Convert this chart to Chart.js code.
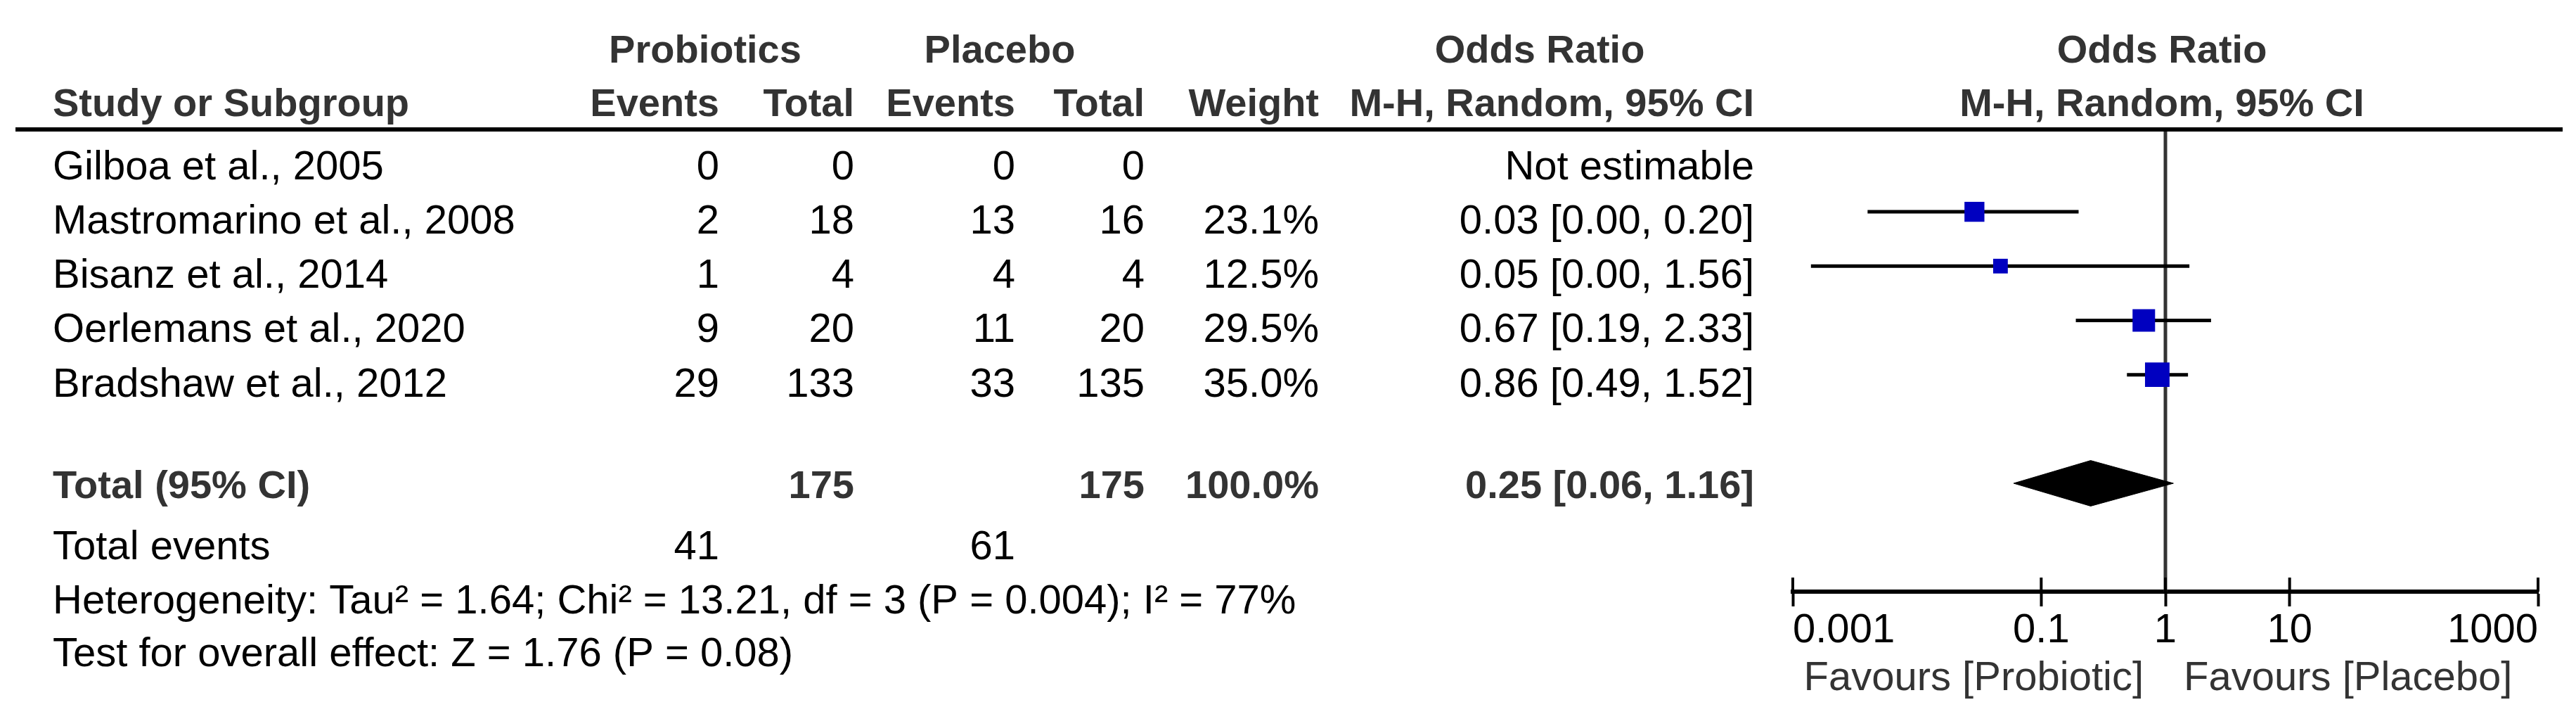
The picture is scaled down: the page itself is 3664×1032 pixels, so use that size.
<!DOCTYPE html>
<html>
<head>
<meta charset="utf-8">
<script src="https://cdn.jsdelivr.net/npm/chart.js@4.4.1/dist/chart.umd.min.js"></script>
<style>
  html, body { margin: 0; padding: 0; background: #fff; }
  #wrap { width: 3664px; height: 1032px; }
</style>
</head>
<body>
<div id="wrap"><canvas id="forest" width="3664" height="1032"></canvas></div>
<script>
// study data
const studies = ['Gilboa et al., 2005', 'Mastromarino et al., 2008', 'Bisanz et al., 2014', 'Oerlemans et al., 2020', 'Bradshaw et al., 2012'];
const probEvents = [0, 2, 1, 9, 29];
const probTotal = [0, 18, 4, 20, 133];
const placEvents = [0, 13, 4, 11, 33];
const placTotal = [0, 16, 4, 20, 135];
const weights = [null, 23.1, 12.5, 29.5, 35.0];
const orEst = [null, 0.029, 0.047, 0.67, 0.86];
const ciLow = [null, 0.004, 0.0014, 0.19, 0.49];
const ciHigh = [null, 0.20, 1.56, 2.33, 1.52];

// pooled result
const totalRow = 6;
const pooledEst = 0.25;
const pooledLow = 0.06;
const pooledHigh = 1.16;
const pooledTotals = [175, 175];
const pooledEvents = [41, 61];
const pooledWeight = 100.0;

const xTicks = [0.001, 0.1, 1, 10, 1000];
const heterogeneity = 'Heterogeneity: Tau\u00B2 = 1.64; Chi\u00B2 = 13.21, df = 3 (P = 0.004); I\u00B2 = 77%';
const overallEffect = 'Test for overall effect: Z = 1.76 (P = 0.08)';
const favourLeft = 'Favours [Probiotic]';
const favourRight = 'Favours [Placebo]';

const FONT = '"Liberation Sans", Arial, sans-serif';
const SIZE = 58;
const BOLD_SIZE = 56;

const fmt2 = v => v.toFixed(2);
const orText = i => orEst[i] == null ? 'Not estimable' : `${fmt2(orEst[i])} [${fmt2(ciLow[i])}, ${fmt2(ciHigh[i])}]`;

// build datasets
const datasets = [];
studies.forEach((s, i) => {
  if (orEst[i] == null) return;
  datasets.push({
    type: 'line',
    data: [{x: ciLow[i], y: i}, {x: ciHigh[i], y: i}],
    borderColor: '#000',
    borderWidth: 5,
    pointRadius: 0,
    order: 2
  });
});
datasets.push({
  type: 'scatter',
  data: studies.map((s, i) => orEst[i] == null ? null : {x: orEst[i], y: i}).filter(p => p),
  pointStyle: 'rect',
  backgroundColor: '#0000C0',
  borderWidth: 0,
  pointRadius: weights.filter(w => w != null).map(w => 5.9 * Math.sqrt(w) / Math.SQRT2),
  order: 0
});
datasets.push({
  type: 'line',
  data: [
    {x: pooledLow, y: totalRow},
    {x: pooledEst, y: totalRow - 0.42},
    {x: pooledHigh, y: totalRow},
    {x: pooledEst, y: totalRow + 0.42},
    {x: pooledLow, y: totalRow}
  ],
  borderColor: '#000',
  borderWidth: 1,
  backgroundColor: '#000',
  fill: 'shape',
  pointRadius: 0,
  tension: 0,
  order: 0
});

const HEADER_RULE = 184;

const forestTable = {
  id: 'forestTable',
  beforeDatasetsDraw(chart) {
    const {ctx, scales: {x}} = chart;
    // line of no effect
    const x1 = x.getPixelForValue(1);
    ctx.save();
    ctx.strokeStyle = '#333';
    ctx.lineWidth = 5;
    ctx.beginPath();
    ctx.moveTo(x1, HEADER_RULE);
    ctx.lineTo(x1, chart.chartArea.bottom);
    ctx.stroke();
    ctx.restore();
  },
  afterDraw(chart) {
    const {ctx, scales: {x, y}} = chart;
    const axisY = chart.chartArea.bottom;
    ctx.save();

    // upper halves of the axis ticks
    ctx.strokeStyle = '#000';
    ctx.lineWidth = 4;
    xTicks.forEach(v => {
      const px = x.getPixelForValue(v);
      ctx.beginPath();
      ctx.moveTo(px, axisY - 20);
      ctx.lineTo(px, axisY);
      ctx.stroke();
    });

    // header rule
    ctx.fillStyle = '#000';
    ctx.fillRect(22, HEADER_RULE - 3, 3623, 6);

    const put = (txt, px, py, align, bold, color) => {
      ctx.font = bold ? `bold ${BOLD_SIZE}px ${FONT}` : `${SIZE}px ${FONT}`;
      ctx.textAlign = align;
      ctx.textBaseline = 'alphabetic';
      ctx.fillStyle = color || (bold ? '#333' : '#000');
      ctx.fillText(txt, px, py);
    };

    const cols = {name: 75, pe: 1023, pt: 1215, ce: 1444, ct: 1628, w: 1876, or: 2495};
    const h1 = 89, h2 = 165;
    const plotMid = x.getPixelForValue(1) - 5;

    // headers
    put('Probiotics', 1003, h1, 'center', true);
    put('Placebo', 1422, h1, 'center', true);
    put('Odds Ratio', 2190, h1, 'center', true);
    put('Odds Ratio', plotMid, h1, 'center', true);
    put('Study or Subgroup', cols.name, h2, 'left', true);
    put('Events', cols.pe, h2, 'right', true);
    put('Total', cols.pt, h2, 'right', true);
    put('Events', cols.ce, h2, 'right', true);
    put('Total', cols.ct, h2, 'right', true);
    put('Weight', cols.w, h2, 'right', true);
    put('M-H, Random, 95% CI', cols.or, h2, 'right', true);
    put('M-H, Random, 95% CI', plotMid, h2, 'center', true);

    // study rows (text baseline sits a little below the mark)
    studies.forEach((s, i) => {
      const py = y.getPixelForValue(i) + 31;
      put(s, cols.name, py, 'left');
      put(String(probEvents[i]), cols.pe, py, 'right');
      put(String(probTotal[i]), cols.pt, py, 'right');
      put(String(placEvents[i]), cols.ce, py, 'right');
      put(String(placTotal[i]), cols.ct, py, 'right');
      if (weights[i] != null) put(weights[i].toFixed(1) + '%', cols.w, py, 'right');
      put(orText(i), cols.or, py, 'right');
    });

    // pooled rows
    const base = y.getPixelForValue(totalRow);
    const ty = base + 21;
    put('Total (95% CI)', cols.name, ty, 'left', true);
    put(String(pooledTotals[0]), cols.pt, ty, 'right', true);
    put(String(pooledTotals[1]), cols.ct, ty, 'right', true);
    put(pooledWeight.toFixed(1) + '%', cols.w, ty, 'right', true);
    put(`${fmt2(pooledEst)} [${fmt2(pooledLow)}, ${fmt2(pooledHigh)}]`, cols.or, ty, 'right', true);

    const ey = base + 108;
    put('Total events', cols.name, ey, 'left');
    put(String(pooledEvents[0]), cols.pe, ey, 'right');
    put(String(pooledEvents[1]), cols.ce, ey, 'right');
    put(heterogeneity, cols.name, base + 185, 'left');
    put(overallEffect, cols.name, base + 260, 'left');

    // favours labels
    const fx = x.getPixelForValue(1);
    put(favourLeft, fx - 31, 981, 'right', false, '#333');
    put(favourRight, fx + 26, 981, 'left', false, '#333');

    ctx.restore();
  }
};

new Chart(document.getElementById('forest'), {
  data: {datasets},
  plugins: [forestTable],
  options: {
    responsive: false,
    animation: false,
    devicePixelRatio: 1,
    layout: {padding: {left: 2550, right: 54, top: HEADER_RULE, bottom: 0}},
    plugins: {legend: {display: false}, tooltip: {enabled: false}},
    scales: {
      x: {
        type: 'logarithmic',
        position: 'bottom',
        min: 0.001,
        max: 1000,
        afterBuildTicks: s => { s.ticks = xTicks.map(v => ({value: v})); },
        afterFit: s => { s.height = 1032 - 841; },
        grid: {drawOnChartArea: false, drawTicks: true, tickLength: 21, tickWidth: 4, tickColor: '#000'},
        border: {display: true, width: 6, color: '#000'},
        ticks: {
          autoSkip: false,
          maxRotation: 0,
          align: 'inner',
          padding: 0,
          color: '#000',
          font: {family: FONT, size: SIZE},
          callback: v => String(v)
        }
      },
      y: {
        type: 'linear',
        display: false,
        reverse: true,
        min: -0.517,
        max: 7.995
      }
    }
  }
});
</script>
</body>
</html>
